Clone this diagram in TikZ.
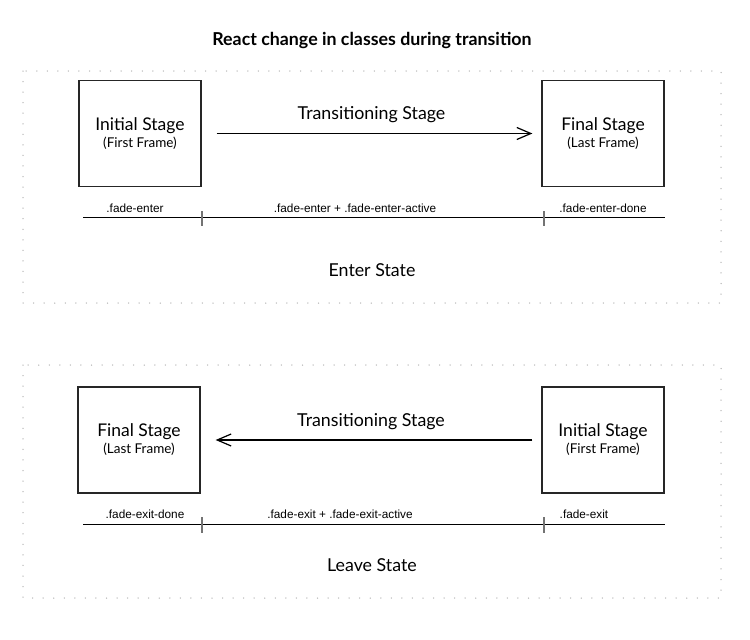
\documentclass[tikz,border=0pt]{standalone}
\usepackage{fontspec}
\setmainfont{Lato}
\newfontfamily\labelfont{Liberation Sans}
\usetikzlibrary{arrows.meta}

\newcommand\subtextfont{\fontsize{13.5}{16}\selectfont}

\tikzset{
  stagebox/.style={draw=black!85, line width=1.3pt, minimum width=122pt, minimum height=106pt,
    align=center, inner sep=0pt, font=\fontsize{17.5}{20}\selectfont},
  areabox/.style={draw=black!28, line width=1.5pt, line cap=round, dash pattern=on 0pt off 10.55pt},
  moveline/.style={line width=1.2pt, -{Straight Barb[length=14pt, width=12pt, line width=1.2pt]}},
  timeline/.style={line width=0.9pt},
  stagetick/.style={draw=black!55, line width=1.6pt},
  classlabel/.style={anchor=base, font=\labelfont\fontsize{11.8}{14}\selectfont},
  statelabel/.style={font=\fontsize{17.8}{21}\selectfont}
}

\begin{document}
\begin{tikzpicture}[x=1pt, y=-1pt]
    \useasboundingbox (0, 0) rectangle (750, 640);

    \node (title) at (372, 40) {\fontsize{17.8}{21}\selectfont\bfseries React change in classes during transition};

    \draw[areabox] (23, 71) rectangle (721, 303);
    \node[stagebox] (ei) at (140, 133.5) {Initial Stage\\[-3pt]{\subtextfont(First Frame)}};
    \node[stagebox] (ef) at (603, 133.5) {Final Stage\\[-3pt]{\subtextfont(Last Frame)}};
    \draw[moveline, shorten <=15pt, shorten >=9pt] (ei.east) -- (ef.west)
        node[midway, above=10pt, inner sep=0pt, statelabel] (et) {Transitioning Stage};
    \coordinate (es) at (83, 217);
    \coordinate (ee) at (665, 217);
    \draw[timeline] (es) -- (ee);
    \draw[stagetick] (202, 211) -- (202, 226);
    \draw[stagetick] (544, 211) -- (544, 226);
    \node[classlabel] (ea) at (135, 212) {.fade-enter};
    \node[classlabel] (eb) at (355, 212) {.fade-enter + .fade-enter-active};
    \node[classlabel] (ec) at (603, 212) {.fade-enter-done};
    \node[statelabel] (enter) at (372, 270) {Enter State};

    \draw[areabox] (23, 365) rectangle (721, 598);
    \node[stagebox] (lf) at (139, 440) {Final Stage\\[-3pt]{\subtextfont(Last Frame)}};
    \node[stagebox] (li) at (603, 440) {Initial Stage\\[-3pt]{\subtextfont(First Frame)}};
    \draw[moveline, shorten <=9pt, shorten >=15pt] (li.west) -- (lf.east)
        node[midway, above=10pt, inner sep=0pt, statelabel] (lt) {Transitioning Stage};
    \coordinate (ls) at (83, 524);
    \coordinate (le) at (665, 524);
    \draw[timeline] (ls) -- (le);
    \draw[stagetick] (202, 517) -- (202, 533);
    \draw[stagetick] (544, 517) -- (544, 533);
    \node[classlabel] (la) at (145, 518) {.fade-exit-done};
    \node[classlabel] (lb) at (340, 518) {.fade-exit + .fade-exit-active};
    \node[classlabel] (lc) at (584, 518) {.fade-exit};
    \node[statelabel] (leave) at (372, 565) {Leave State};
\end{tikzpicture}
\end{document}
